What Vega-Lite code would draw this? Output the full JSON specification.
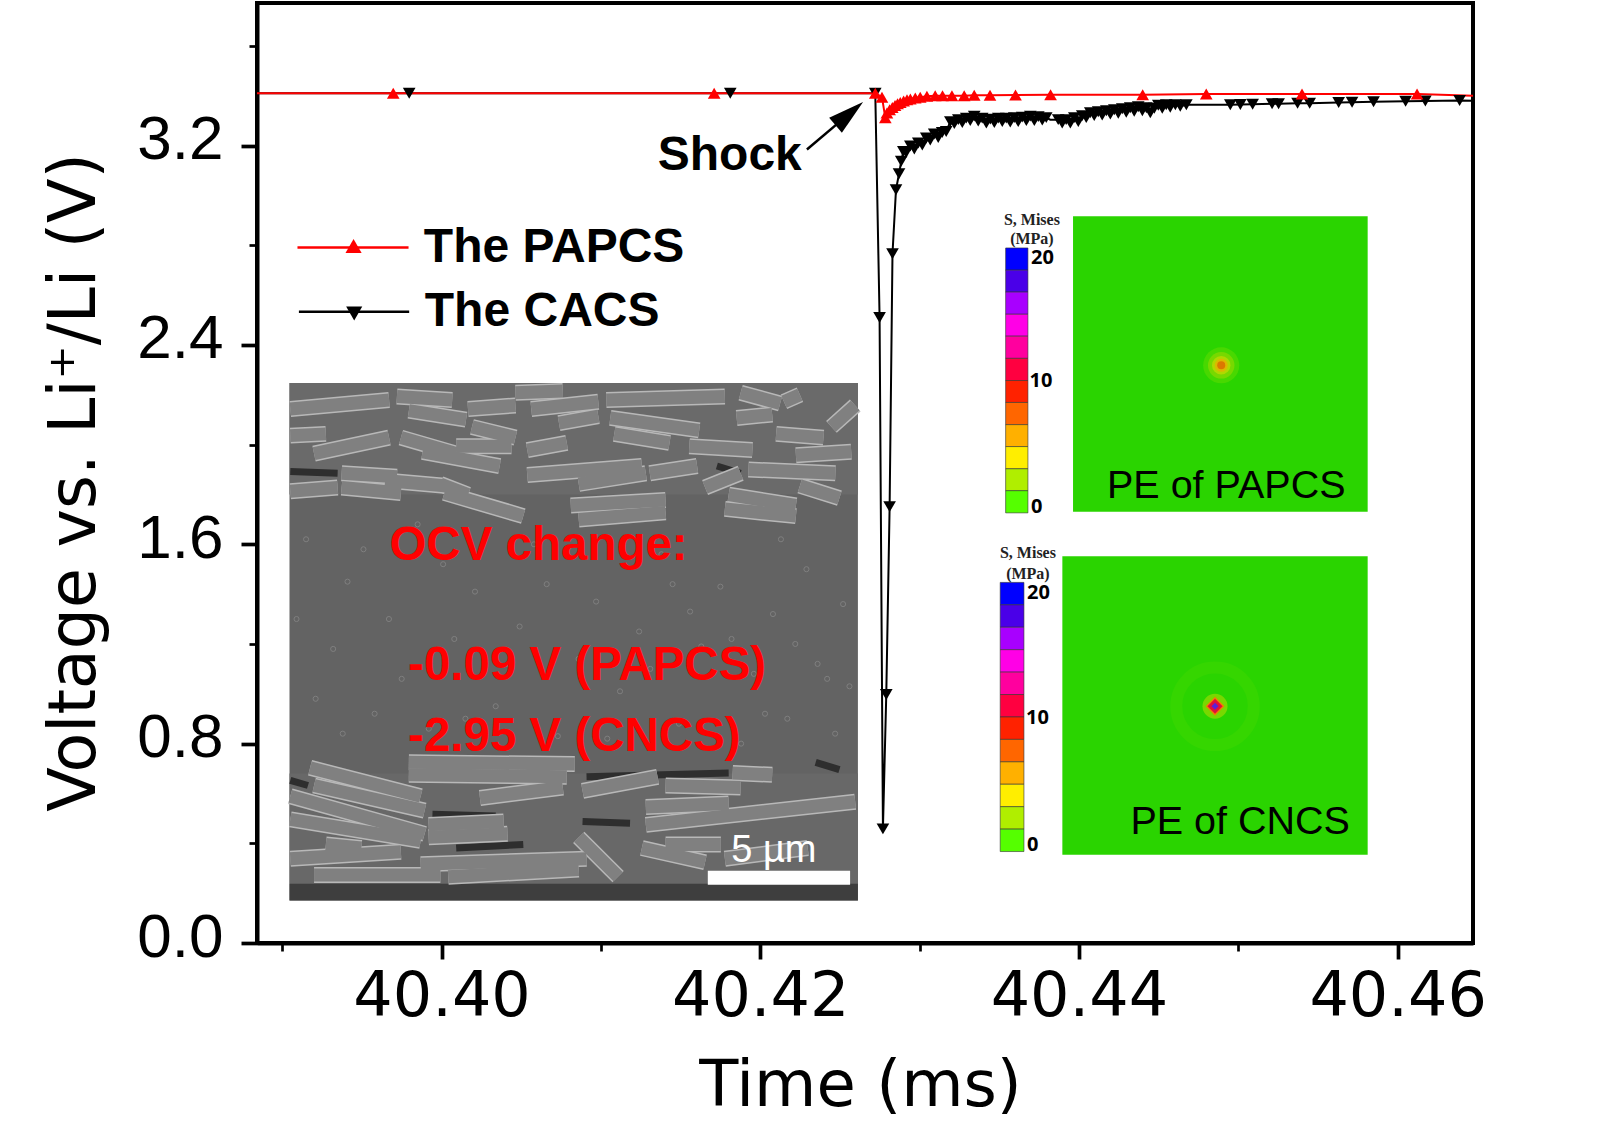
{
  "$schema": "https://vega.github.io/schema/vega-lite/v6.json",
  "width": 1216,
  "height": 940,
  "autosize": "none",
  "padding": {"left": 257, "top": 3, "right": 127, "bottom": 195},
  "background": "white",
  "view": {"stroke": "black", "strokeWidth": 4},
  "datasets": {
    "curves": [
      {"series":"CACS","t":40.38842,"v":3.41,"m":0},
      {"series":"CACS","t":40.39797,"v":3.41,"m":1},
      {"series":"CACS","t":40.41812,"v":3.41,"m":1},
      {"series":"CACS","t":40.42722,"v":3.41,"m":1},
      {"series":"CACS","t":40.42749,"v":2.51,"m":1},
      {"series":"CACS","t":40.4277,"v":0.458,"m":1},
      {"series":"CACS","t":40.42791,"v":0.997,"m":1},
      {"series":"CACS","t":40.42812,"v":1.751,"m":1},
      {"series":"CACS","t":40.4283,"v":2.766,"m":1},
      {"series":"CACS","t":40.42852,"v":3.023,"m":1},
      {"series":"CACS","t":40.42871,"v":3.087,"m":1},
      {"series":"CACS","t":40.42885,"v":3.137,"m":1},
      {"series":"CACS","t":40.42898,"v":3.176,"m":1},
      {"series":"CACS","t":40.42916,"v":3.172,"m":1},
      {"series":"CACS","t":40.42942,"v":3.198,"m":1},
      {"series":"CACS","t":40.42967,"v":3.186,"m":1},
      {"series":"CACS","t":40.42992,"v":3.21,"m":1},
      {"series":"CACS","t":40.43017,"v":3.202,"m":1},
      {"series":"CACS","t":40.43042,"v":3.23,"m":1},
      {"series":"CACS","t":40.43067,"v":3.222,"m":1},
      {"series":"CACS","t":40.43092,"v":3.246,"m":1},
      {"series":"CACS","t":40.43117,"v":3.232,"m":1},
      {"series":"CACS","t":40.43142,"v":3.252,"m":1},
      {"series":"CACS","t":40.43167,"v":3.256,"m":1},
      {"series":"CACS","t":40.43193,"v":3.296,"m":1},
      {"series":"CACS","t":40.43218,"v":3.288,"m":1},
      {"series":"CACS","t":40.43243,"v":3.304,"m":1},
      {"series":"CACS","t":40.43268,"v":3.292,"m":1},
      {"series":"CACS","t":40.43293,"v":3.31,"m":1},
      {"series":"CACS","t":40.43318,"v":3.3,"m":1},
      {"series":"CACS","t":40.43343,"v":3.318,"m":1},
      {"series":"CACS","t":40.43368,"v":3.298,"m":1},
      {"series":"CACS","t":40.43393,"v":3.31,"m":1},
      {"series":"CACS","t":40.43419,"v":3.29,"m":1},
      {"series":"CACS","t":40.43444,"v":3.306,"m":1},
      {"series":"CACS","t":40.43469,"v":3.292,"m":1},
      {"series":"CACS","t":40.43494,"v":3.31,"m":1},
      {"series":"CACS","t":40.43519,"v":3.296,"m":1},
      {"series":"CACS","t":40.43544,"v":3.31,"m":1},
      {"series":"CACS","t":40.43569,"v":3.294,"m":1},
      {"series":"CACS","t":40.43594,"v":3.312,"m":1},
      {"series":"CACS","t":40.43619,"v":3.296,"m":1},
      {"series":"CACS","t":40.43644,"v":3.314,"m":1},
      {"series":"CACS","t":40.4367,"v":3.3,"m":1},
      {"series":"CACS","t":40.43695,"v":3.318,"m":1},
      {"series":"CACS","t":40.4372,"v":3.3,"m":1},
      {"series":"CACS","t":40.43745,"v":3.316,"m":1},
      {"series":"CACS","t":40.4377,"v":3.302,"m":1},
      {"series":"CACS","t":40.43795,"v":3.312,"m":1},
      {"series":"CACS","t":40.4382,"v":3.304,"m":0},
      {"series":"CACS","t":40.4387,"v":3.304,"m":1},
      {"series":"CACS","t":40.43895,"v":3.29,"m":1},
      {"series":"CACS","t":40.4392,"v":3.304,"m":1},
      {"series":"CACS","t":40.43946,"v":3.29,"m":1},
      {"series":"CACS","t":40.43971,"v":3.312,"m":1},
      {"series":"CACS","t":40.43996,"v":3.296,"m":1},
      {"series":"CACS","t":40.44021,"v":3.32,"m":1},
      {"series":"CACS","t":40.44046,"v":3.312,"m":1},
      {"series":"CACS","t":40.44071,"v":3.332,"m":1},
      {"series":"CACS","t":40.44096,"v":3.32,"m":1},
      {"series":"CACS","t":40.44121,"v":3.336,"m":1},
      {"series":"CACS","t":40.44146,"v":3.322,"m":1},
      {"series":"CACS","t":40.44172,"v":3.34,"m":1},
      {"series":"CACS","t":40.44197,"v":3.326,"m":1},
      {"series":"CACS","t":40.44222,"v":3.344,"m":1},
      {"series":"CACS","t":40.44247,"v":3.33,"m":1},
      {"series":"CACS","t":40.44272,"v":3.348,"m":1},
      {"series":"CACS","t":40.44297,"v":3.334,"m":1},
      {"series":"CACS","t":40.44322,"v":3.352,"m":1},
      {"series":"CACS","t":40.44347,"v":3.338,"m":1},
      {"series":"CACS","t":40.44372,"v":3.356,"m":1},
      {"series":"CACS","t":40.44398,"v":3.34,"m":1},
      {"series":"CACS","t":40.44423,"v":3.352,"m":1},
      {"series":"CACS","t":40.44448,"v":3.332,"m":1},
      {"series":"CACS","t":40.44473,"v":3.35,"m":1},
      {"series":"CACS","t":40.44498,"v":3.362,"m":1},
      {"series":"CACS","t":40.44523,"v":3.35,"m":1},
      {"series":"CACS","t":40.44548,"v":3.364,"m":1},
      {"series":"CACS","t":40.44573,"v":3.354,"m":1},
      {"series":"CACS","t":40.44605,"v":3.364,"m":1},
      {"series":"CACS","t":40.44636,"v":3.358,"m":1},
      {"series":"CACS","t":40.44674,"v":3.364,"m":1},
      {"series":"CACS","t":40.4495,"v":3.364,"m":1},
      {"series":"CACS","t":40.45013,"v":3.365,"m":1},
      {"series":"CACS","t":40.4509,"v":3.366,"m":1},
      {"series":"CACS","t":40.45212,"v":3.368,"m":1},
      {"series":"CACS","t":40.45253,"v":3.368,"m":1},
      {"series":"CACS","t":40.45372,"v":3.37,"m":1},
      {"series":"CACS","t":40.45448,"v":3.37,"m":1},
      {"series":"CACS","t":40.4563,"v":3.373,"m":1},
      {"series":"CACS","t":40.45714,"v":3.374,"m":1},
      {"series":"CACS","t":40.45849,"v":3.376,"m":1},
      {"series":"CACS","t":40.4605,"v":3.378,"m":1},
      {"series":"CACS","t":40.46174,"v":3.379,"m":1},
      {"series":"CACS","t":40.46389,"v":3.381,"m":1},
      {"series":"CACS","t":40.46473,"v":3.38,"m":0},
      {"series":"PAPCS","t":40.38842,"v":3.41,"m":0},
      {"series":"PAPCS","t":40.39697,"v":3.41,"m":1},
      {"series":"PAPCS","t":40.41711,"v":3.41,"m":1},
      {"series":"PAPCS","t":40.42722,"v":3.41,"m":1},
      {"series":"PAPCS","t":40.42764,"v":3.394,"m":1},
      {"series":"PAPCS","t":40.42785,"v":3.311,"m":1},
      {"series":"PAPCS","t":40.42795,"v":3.331,"m":1},
      {"series":"PAPCS","t":40.42812,"v":3.344,"m":1},
      {"series":"PAPCS","t":40.42829,"v":3.353,"m":1},
      {"series":"PAPCS","t":40.42846,"v":3.361,"m":1},
      {"series":"PAPCS","t":40.42862,"v":3.368,"m":1},
      {"series":"PAPCS","t":40.42879,"v":3.373,"m":1},
      {"series":"PAPCS","t":40.429,"v":3.379,"m":1},
      {"series":"PAPCS","t":40.42921,"v":3.384,"m":1},
      {"series":"PAPCS","t":40.42942,"v":3.387,"m":1},
      {"series":"PAPCS","t":40.42973,"v":3.391,"m":1},
      {"series":"PAPCS","t":40.43004,"v":3.394,"m":1},
      {"series":"PAPCS","t":40.43046,"v":3.398,"m":1},
      {"series":"PAPCS","t":40.43098,"v":3.4,"m":1},
      {"series":"PAPCS","t":40.43144,"v":3.4,"m":1},
      {"series":"PAPCS","t":40.43203,"v":3.4,"m":1},
      {"series":"PAPCS","t":40.4328,"v":3.4,"m":1},
      {"series":"PAPCS","t":40.43343,"v":3.402,"m":1},
      {"series":"PAPCS","t":40.43442,"v":3.402,"m":1},
      {"series":"PAPCS","t":40.43602,"v":3.403,"m":1},
      {"series":"PAPCS","t":40.43822,"v":3.404,"m":1},
      {"series":"PAPCS","t":40.444,"v":3.404,"m":1},
      {"series":"PAPCS","t":40.44799,"v":3.407,"m":1},
      {"series":"PAPCS","t":40.454,"v":3.407,"m":1},
      {"series":"PAPCS","t":40.46122,"v":3.407,"m":1},
      {"series":"PAPCS","t":40.46473,"v":3.4,"m":0}
    ],
    "sem_parts": [
      {"part":"base","t":40.39046,"t2":40.42613,"v":0.171,"v2":2.2476},
      {"part":"top","t":40.39046,"t2":40.42613,"v":1.8,"v2":2.2476},
      {"part":"bottom","t":40.39046,"t2":40.42613,"v":0.238,"v2":0.68},
      {"part":"strip","t":40.39046,"t2":40.42613,"v":0.171,"v2":0.238}
    ],
    "pores": [
      {"t":40.3915,"v":1.62},{"t":40.3932,"v":1.18},{"t":40.3941,"v":1.45},{"t":40.3958,"v":0.92},
      {"t":40.3967,"v":1.3},{"t":40.3985,"v":1.68},{"t":40.3992,"v":0.86},{"t":40.4008,"v":1.22},
      {"t":40.4021,"v":1.41},{"t":40.4034,"v":0.95},{"t":40.4049,"v":1.27},{"t":40.4058,"v":1.6},
      {"t":40.4073,"v":0.83},{"t":40.4086,"v":1.14},{"t":40.4097,"v":1.37},{"t":40.4112,"v":1.01},
      {"t":40.4124,"v":1.25},{"t":40.4138,"v":1.56},{"t":40.4149,"v":0.88},{"t":40.4163,"v":1.19},
      {"t":40.4175,"v":1.43},{"t":40.4188,"v":0.8},{"t":40.4196,"v":1.08},{"t":40.4208,"v":1.32},
      {"t":40.4217,"v":0.9},{"t":40.4229,"v":1.5},{"t":40.4236,"v":1.12},{"t":40.4247,"v":0.84},
      {"t":40.4252,"v":1.36},{"t":40.4256,"v":1.03},{"t":40.3921,"v":0.98},{"t":40.4001,"v":1.52},
      {"t":40.3938,"v":0.84},{"t":40.3975,"v":1.06},{"t":40.4015,"v":0.9},{"t":40.4042,"v":1.12},
      {"t":40.4066,"v":1.44},{"t":40.4104,"v":0.82},{"t":40.4131,"v":1.1},{"t":40.4156,"v":1.33},
      {"t":40.4182,"v":1.22},{"t":40.4203,"v":0.92},{"t":40.4222,"v":1.2},{"t":40.4242,"v":1.06},
      {"t":40.3909,"v":1.3},{"t":40.3951,"v":1.58},{"t":40.4145,"v":1.44},{"t":40.4213,"v":1.62}
    ],
    "sem_gaps": [
      {"t":40.39051,"v":1.892,"t2":40.39348,"v2":1.885},
      {"t":40.41728,"v":1.914,"t2":40.41877,"v2":1.885},
      {"t":40.4091,"v":0.667,"t2":40.41802,"v2":0.682},
      {"t":40.39943,"v":0.517,"t2":40.4034,"v2":0.51},
      {"t":40.40092,"v":0.381,"t2":40.40513,"v2":0.395},
      {"t":40.40885,"v":0.488,"t2":40.41183,"v2":0.481},
      {"t":40.42348,"v":0.725,"t2":40.42497,"v2":0.696},
      {"t":40.39051,"v":0.653,"t2":40.39162,"v2":0.632}
    ],
    "sem_rods": [
      {"t":40.39051,"v":2.143,"t2":40.39671,"v2":2.179},
      {"t":40.3972,"v":2.193,"t2":40.40067,"v2":2.179},
      {"t":40.40464,"v":2.208,"t2":40.40761,"v2":2.215},
      {"t":40.41034,"v":2.179,"t2":40.41778,"v2":2.193},
      {"t":40.41877,"v":2.208,"t2":40.42125,"v2":2.165},
      {"t":40.42224,"v":1.957,"t2":40.42571,"v2":1.971},
      {"t":40.421,"v":2.043,"t2":40.42397,"v2":2.028},
      {"t":40.39051,"v":1.813,"t2":40.39348,"v2":1.828},
      {"t":40.40563,"v":2.143,"t2":40.40984,"v2":2.172},
      {"t":40.39051,"v":0.338,"t2":40.39745,"v2":0.366},
      {"t":40.41778,"v":0.338,"t2":40.42298,"v2":0.381},
      {"t":40.41257,"v":0.381,"t2":40.41654,"v2":0.324},
      {"t":40.392,"v":1.964,"t2":40.39671,"v2":2.028},
      {"t":40.39051,"v":2.036,"t2":40.39274,"v2":2.043},
      {"t":40.39795,"v":2.136,"t2":40.40154,"v2":2.1},
      {"t":40.40166,"v":2.143,"t2":40.40464,"v2":2.157},
      {"t":40.40191,"v":2.071,"t2":40.40464,"v2":2.028},
      {"t":40.39745,"v":2.028,"t2":40.40092,"v2":1.964},
      {"t":40.40092,"v":1.993,"t2":40.40439,"v2":1.993},
      {"t":40.39881,"v":1.971,"t2":40.40365,"v2":1.914},
      {"t":40.40538,"v":1.978,"t2":40.40786,"v2":2.007},
      {"t":40.41059,"v":2.107,"t2":40.41617,"v2":2.057},
      {"t":40.41084,"v":2.043,"t2":40.41431,"v2":2.007},
      {"t":40.41555,"v":1.993,"t2":40.41951,"v2":1.978},
      {"t":40.41852,"v":2.107,"t2":40.42075,"v2":2.121},
      {"t":40.40538,"v":1.878,"t2":40.41257,"v2":1.914},
      {"t":40.40861,"v":1.842,"t2":40.41282,"v2":1.885},
      {"t":40.41307,"v":1.885,"t2":40.41604,"v2":1.914},
      {"t":40.41926,"v":1.9,"t2":40.42472,"v2":1.885},
      {"t":40.41654,"v":1.828,"t2":40.41877,"v2":1.885},
      {"t":40.41802,"v":1.799,"t2":40.42224,"v2":1.756},
      {"t":40.41778,"v":1.742,"t2":40.42224,"v2":1.713},
      {"t":40.39373,"v":1.885,"t2":40.3972,"v2":1.871},
      {"t":40.39373,"v":1.828,"t2":40.39745,"v2":1.806},
      {"t":40.39646,"v":1.856,"t2":40.40018,"v2":1.835},
      {"t":40.40018,"v":1.806,"t2":40.40513,"v2":1.713},
      {"t":40.39993,"v":1.842,"t2":40.40166,"v2":1.799},
      {"t":40.40811,"v":1.756,"t2":40.41406,"v2":1.778},
      {"t":40.40861,"v":1.699,"t2":40.41406,"v2":1.728},
      {"t":40.42249,"v":1.835,"t2":40.42497,"v2":1.785},
      {"t":40.42447,"v":2.071,"t2":40.42596,"v2":2.157},
      {"t":40.40737,"v":2.086,"t2":40.40984,"v2":2.114},
      {"t":40.42149,"v":2.172,"t2":40.42249,"v2":2.2},
      {"t":40.39175,"v":0.703,"t2":40.39869,"v2":0.589},
      {"t":40.392,"v":0.632,"t2":40.39894,"v2":0.531},
      {"t":40.39051,"v":0.589,"t2":40.39894,"v2":0.438},
      {"t":40.39051,"v":0.496,"t2":40.39869,"v2":0.41},
      {"t":40.392,"v":0.273,"t2":40.39993,"v2":0.273},
      {"t":40.40042,"v":0.266,"t2":40.40861,"v2":0.295},
      {"t":40.39795,"v":0.725,"t2":40.40836,"v2":0.718},
      {"t":40.39795,"v":0.675,"t2":40.40786,"v2":0.667},
      {"t":40.40241,"v":0.582,"t2":40.40761,"v2":0.624},
      {"t":40.40885,"v":0.61,"t2":40.41356,"v2":0.667},
      {"t":40.41406,"v":0.632,"t2":40.41877,"v2":0.624},
      {"t":40.41282,"v":0.546,"t2":40.41802,"v2":0.56},
      {"t":40.41282,"v":0.474,"t2":40.42596,"v2":0.567},
      {"t":40.39919,"v":0.474,"t2":40.4039,"v2":0.488},
      {"t":40.39919,"v":0.424,"t2":40.40414,"v2":0.438},
      {"t":40.40861,"v":0.424,"t2":40.41108,"v2":0.266},
      {"t":40.39869,"v":0.316,"t2":40.4091,"v2":0.338},
      {"t":40.41827,"v":0.682,"t2":40.42075,"v2":0.675},
      {"t":40.41406,"v":0.395,"t2":40.41753,"v2":0.395},
      {"t":40.39274,"v":0.395,"t2":40.39497,"v2":0.381}
    ],
    "scale_bar": [{"t":40.41671,"t2":40.42564,"v":0.234,"v2":0.29}],
    "panels": [
      {"name":"PE of PAPCS","t":40.43963,"t2":40.45812,"v":1.731,"v2":2.916},
      {"name":"PE of CNCS","t":40.43896,"t2":40.45812,"v":0.354,"v2":1.552}
    ],
    "halo": [{"t":40.44854,"v":0.95}],
    "spots": [
      {"level":"u0","t":40.44893,"v":2.318},
      {"level":"u1","t":40.44893,"v":2.318},
      {"level":"u2","t":40.44893,"v":2.318},
      {"level":"u3","t":40.44893,"v":2.318},
      {"level":"u4","t":40.44893,"v":2.318},
      {"level":"l1","t":40.44854,"v":0.95},
      {"level":"l2","t":40.44854,"v":0.95},
      {"level":"l3","t":40.44854,"v":0.95},
      {"level":"l4","t":40.44854,"v":0.95}
    ],
    "bands": [
      {"band":12,"t":40.4354,"t2":40.4368,"v":2.7,"v2":2.789},
      {"band":11,"t":40.4354,"t2":40.4368,"v":2.612,"v2":2.7},
      {"band":10,"t":40.4354,"t2":40.4368,"v":2.523,"v2":2.612},
      {"band":9,"t":40.4354,"t2":40.4368,"v":2.435,"v2":2.523},
      {"band":8,"t":40.4354,"t2":40.4368,"v":2.346,"v2":2.435},
      {"band":7,"t":40.4354,"t2":40.4368,"v":2.257,"v2":2.346},
      {"band":6,"t":40.4354,"t2":40.4368,"v":2.169,"v2":2.257},
      {"band":5,"t":40.4354,"t2":40.4368,"v":2.08,"v2":2.169},
      {"band":4,"t":40.4354,"t2":40.4368,"v":1.992,"v2":2.08},
      {"band":3,"t":40.4354,"t2":40.4368,"v":1.903,"v2":1.992},
      {"band":2,"t":40.4354,"t2":40.4368,"v":1.815,"v2":1.903},
      {"band":1,"t":40.4354,"t2":40.4368,"v":1.726,"v2":1.815},
      {"band":12,"t":40.43506,"t2":40.43655,"v":1.357,"v2":1.447},
      {"band":11,"t":40.43506,"t2":40.43655,"v":1.267,"v2":1.357},
      {"band":10,"t":40.43506,"t2":40.43655,"v":1.177,"v2":1.267},
      {"band":9,"t":40.43506,"t2":40.43655,"v":1.087,"v2":1.177},
      {"band":8,"t":40.43506,"t2":40.43655,"v":0.997,"v2":1.087},
      {"band":7,"t":40.43506,"t2":40.43655,"v":0.907,"v2":0.997},
      {"band":6,"t":40.43506,"t2":40.43655,"v":0.817,"v2":0.907},
      {"band":5,"t":40.43506,"t2":40.43655,"v":0.727,"v2":0.817},
      {"band":4,"t":40.43506,"t2":40.43655,"v":0.637,"v2":0.727},
      {"band":3,"t":40.43506,"t2":40.43655,"v":0.547,"v2":0.637},
      {"band":2,"t":40.43506,"t2":40.43655,"v":0.457,"v2":0.547},
      {"band":1,"t":40.43506,"t2":40.43655,"v":0.367,"v2":0.457}
    ],
    "key_lines": [
      {"series":"CACS","t":40.39105,"t2":40.39797,"v":2.533},
      {"series":"PAPCS","t":40.39096,"t2":40.39793,"v":2.791}
    ],
    "key_marks": [
      {"series":"CACS","t":40.39452,"v":2.526},
      {"series":"PAPCS","t":40.39448,"v":2.797}
    ],
    "arrow_shaft": [{"t":40.42293,"v":3.184,"t2":40.42559,"v2":3.328}],
    "arrow_head": [{"t":40.42559,"v":3.328}],
    "labels": [
      {"kind":"heading","t":40.41357,"v":3.1,"text":"Shock"},
      {"kind":"heading","t":40.39889,"v":2.732,"text":"The PAPCS"},
      {"kind":"heading","t":40.39895,"v":2.475,"text":"The CACS"},
      {"kind":"ocv","t":40.39673,"v":1.535,"text":"OCV change:"},
      {"kind":"ocv","t":40.3979,"v":1.054,"text":"-0.09 V (PAPCS)"},
      {"kind":"ocv","t":40.3979,"v":0.771,"text":"-2.95 V (CNCS)"},
      {"kind":"scale","t":40.41818,"v":0.326,"text":"5 µm"},
      {"kind":"panel","t":40.44176,"v":1.786,"text":"PE of PAPCS"},
      {"kind":"panel","t":40.44323,"v":0.439,"text":"PE of CNCS"},
      {"kind":"bar","t":40.43699,"v":2.725,"text":"20"},
      {"kind":"bar","t":40.4369,"v":2.23,"text":"10"},
      {"kind":"bar","t":40.43699,"v":1.727,"text":"0"},
      {"kind":"bar","t":40.43674,"v":1.382,"text":"20"},
      {"kind":"bar","t":40.43668,"v":0.879,"text":"10"},
      {"kind":"bar","t":40.43674,"v":0.368,"text":"0"},
      {"kind":"bartitle","t":40.43705,"v":2.883,"text":"S, Mises"},
      {"kind":"bartitle","t":40.43705,"v":2.803,"text":"(MPa)"},
      {"kind":"bartitle","t":40.4368,"v":1.545,"text":"S, Mises"},
      {"kind":"bartitle","t":40.4368,"v":1.462,"text":"(MPa)"}
    ]
  },
  "encoding": {
    "x": {
      "field": "t",
      "type": "quantitative",
      "scale": {"domain": [40.38842, 40.46473], "nice": false, "zero": false},
      "axis": {
        "values": [40.39, 40.4, 40.41, 40.42, 40.43, 40.44, 40.45, 40.46],
        "labelExpr": "round(datum.value*100)%2==0 ? format(datum.value,'.2f') : ''",
        "tickSize": {"condition": {"test": "round(datum.value*100)%2==1", "value": 8}, "value": 16},
        "tickWidth": {"condition": {"test": "round(datum.value*100)%2==1", "value": 2.7}, "value": 3.7},
        "tickColor": "black",
        "domainColor": "black",
        "domainWidth": 4,
        "grid": false,
        "labelFont": "DejaVu Sans",
        "labelFontSize": 62,
        "labelColor": "black",
        "labelBaseline": "alphabetic",
        "labelPadding": 56,
        "labelOverlap": false,
        "labelFlush": false,
        "title": "Time (ms)",
        "titleFont": "DejaVu Sans",
        "titleFontSize": 64,
        "titleFontWeight": "normal",
        "titleColor": "black",
        "titleBaseline": "alphabetic",
        "titleAnchor": "middle",
        "titleAlign": "center",
        "titleX": 603,
        "titleY": 162
      }
    },
    "y": {
      "field": "v",
      "type": "quantitative",
      "scale": {"domain": [0, 3.772], "nice": false, "zero": false},
      "axis": {
        "values": [0, 0.4, 0.8, 1.2, 1.6, 2, 2.4, 2.8, 3.2, 3.6],
        "labelExpr": "round(datum.value*10)%8==0 ? format(datum.value,'.1f') : ''",
        "tickSize": {"condition": {"test": "round(datum.value*10)%8!=0", "value": 8}, "value": 16},
        "tickWidth": {"condition": {"test": "round(datum.value*10)%8!=0", "value": 2.7}, "value": 3.7},
        "tickColor": "black",
        "domainColor": "black",
        "domainWidth": 4,
        "grid": false,
        "labelFont": "Liberation Sans",
        "labelFontSize": 62,
        "labelColor": "black",
        "labelPadding": 18,
        "labelOffset": -6,
        "labelOverlap": false,
        "labelFlush": false,
        "title": "Voltage vs. Li⁺/Li (V)",
        "titleFont": "DejaVu Sans",
        "titleFontSize": 65,
        "titleFontWeight": "normal",
        "titleColor": "black",
        "titleBaseline": "alphabetic",
        "titleAnchor": "middle",
        "titleAlign": "center",
        "titleX": -163,
        "titleY": 479
      }
    }
  },
  "layer": [
    {
      "data": {"name": "sem_parts"},
      "mark": {"type": "rect"},
      "encoding": {
        "x2": {"field": "t2"},
        "y2": {"field": "v2"},
        "color": {
          "field": "part",
          "type": "nominal",
          "scale": {"domain": ["base", "top", "bottom", "strip"], "range": ["#636363", "#6a6a6a", "#686868", "#3e3e3e"]},
          "legend": null
        }
      }
    },
    {
      "data": {"name": "pores"},
      "mark": {"type": "point", "size": 26, "stroke": "#8c8c8c", "strokeWidth": 1, "filled": false}
    },
    {
      "data": {"name": "sem_gaps"},
      "mark": {"type": "rule", "color": "#2e2e2e", "strokeWidth": 7},
      "encoding": {"x2": {"field": "t2"}, "y2": {"field": "v2"}}
    },
    {
      "data": {"name": "sem_rods"},
      "mark": {"type": "rule", "color": "#b8b8b8", "strokeWidth": 16},
      "encoding": {"x2": {"field": "t2"}, "y2": {"field": "v2"}}
    },
    {
      "data": {"name": "sem_rods"},
      "mark": {"type": "rule", "color": "#808080", "strokeWidth": 13},
      "encoding": {"x2": {"field": "t2"}, "y2": {"field": "v2"}}
    },
    {
      "data": {"name": "scale_bar"},
      "mark": {"type": "rect", "color": "white"},
      "encoding": {"x2": {"field": "t2"}, "y2": {"field": "v2"}}
    },
    {
      "data": {"name": "panels"},
      "mark": {"type": "rect", "color": "#2ad400"},
      "encoding": {"x2": {"field": "t2"}, "y2": {"field": "v2"}}
    },
    {
      "data": {"name": "halo"},
      "mark": {"type": "point", "shape": "circle", "filled": false, "size": 6000, "stroke": "#40d800", "strokeWidth": 12, "opacity": 0.5}
    },
    {
      "data": {"name": "spots"},
      "mark": {"type": "point", "filled": true, "opacity": 1, "strokeWidth": 0},
      "encoding": {
        "color": {
          "field": "level",
          "type": "nominal",
          "scale": {
            "domain": ["u0", "u1", "u2", "u3", "u4", "l1", "l2", "l3", "l4"],
            "range": ["#48d800", "#78d800", "#b0d800", "#dcb800", "#dc7800", "#78d800", "#f08000", "#e0103c", "#5a20d8"]
          },
          "legend": null
        },
        "size": {
          "field": "level",
          "type": "nominal",
          "scale": {
            "type": "ordinal",
            "domain": ["u0", "u1", "u2", "u3", "u4", "l1", "l2", "l3", "l4"],
            "range": [1300, 700, 340, 170, 64, 625, 361, 225, 49]
          },
          "legend": null
        },
        "shape": {
          "field": "level",
          "type": "nominal",
          "scale": {
            "domain": ["u0", "u1", "u2", "u3", "u4", "l1", "l2", "l3", "l4"],
            "range": ["circle", "circle", "circle", "circle", "circle", "circle", "diamond", "diamond", "diamond"]
          },
          "legend": null
        }
      }
    },
    {
      "data": {"name": "bands"},
      "mark": {"type": "rect", "stroke": "#333333", "strokeWidth": 0.6},
      "encoding": {
        "x2": {"field": "t2"},
        "y2": {"field": "v2"},
        "color": {
          "field": "band",
          "type": "ordinal",
          "scale": {
            "domain": [1, 2, 3, 4, 5, 6, 7, 8, 9, 10, 11, 12],
            "range": ["#55ff00", "#b0ee00", "#ffee00", "#ffb000", "#ff6600", "#ff2200", "#ff0040", "#ff009e", "#ff00e6", "#a800ff", "#4a00e8", "#0000ff"]
          },
          "legend": null
        }
      }
    },
    {
      "data": {"name": "curves"},
      "mark": {"type": "line", "strokeWidth": 2},
      "encoding": {
        "color": {
          "field": "series",
          "type": "nominal",
          "scale": {"domain": ["PAPCS", "CACS"], "range": ["#ff0000", "#000000"]},
          "legend": null
        }
      }
    },
    {
      "data": {"name": "curves"},
      "transform": [{"filter": "datum.m==1"}],
      "mark": {"type": "point", "filled": true, "size": 160, "opacity": 1, "strokeWidth": 0},
      "encoding": {
        "color": {
          "field": "series",
          "type": "nominal",
          "scale": {"domain": ["PAPCS", "CACS"], "range": ["#ff0000", "#000000"]},
          "legend": null
        },
        "shape": {
          "field": "series",
          "type": "nominal",
          "scale": {"domain": ["PAPCS", "CACS"], "range": ["triangle-up", "triangle-down"]},
          "legend": null
        }
      }
    },
    {
      "data": {"name": "key_lines"},
      "mark": {"type": "rule", "strokeWidth": 2.6},
      "encoding": {
        "x2": {"field": "t2"},
        "color": {
          "field": "series",
          "type": "nominal",
          "scale": {"domain": ["PAPCS", "CACS"], "range": ["#ff0000", "#000000"]},
          "legend": null
        }
      }
    },
    {
      "data": {"name": "key_marks"},
      "mark": {"type": "point", "filled": true, "size": 260, "opacity": 1, "strokeWidth": 0},
      "encoding": {
        "color": {
          "field": "series",
          "type": "nominal",
          "scale": {"domain": ["PAPCS", "CACS"], "range": ["#ff0000", "#000000"]},
          "legend": null
        },
        "shape": {
          "field": "series",
          "type": "nominal",
          "scale": {"domain": ["PAPCS", "CACS"], "range": ["triangle-up", "triangle-down"]},
          "legend": null
        }
      }
    },
    {
      "data": {"name": "arrow_shaft"},
      "mark": {"type": "rule", "color": "black", "strokeWidth": 2.5},
      "encoding": {"x2": {"field": "t2"}, "y2": {"field": "v2"}}
    },
    {
      "data": {"name": "arrow_head"},
      "mark": {"type": "point", "filled": true, "color": "black", "opacity": 1, "strokeWidth": 0, "shape": "M0,-1L0.55,1L-0.55,1Z", "size": 1296, "angle": 50}
    },
    {
      "data": {"name": "labels"},
      "transform": [{"filter": "datum.kind=='heading'"}],
      "mark": {"type": "text", "align": "left", "baseline": "alphabetic", "font": "Liberation Sans", "fontWeight": "bold", "fontSize": 48, "color": "black"},
      "encoding": {"text": {"field": "text"}}
    },
    {
      "data": {"name": "labels"},
      "transform": [{"filter": "datum.kind=='ocv'"}],
      "mark": {"type": "text", "align": "left", "baseline": "alphabetic", "font": "Liberation Sans", "fontWeight": "bold", "fontSize": 47.5, "color": "#ff0000"},
      "encoding": {"text": {"field": "text"}}
    },
    {
      "data": {"name": "labels"},
      "transform": [{"filter": "datum.kind=='scale'"}],
      "mark": {"type": "text", "align": "left", "baseline": "alphabetic", "font": "Liberation Sans", "fontSize": 38, "color": "white"},
      "encoding": {"text": {"field": "text"}}
    },
    {
      "data": {"name": "labels"},
      "transform": [{"filter": "datum.kind=='panel'"}],
      "mark": {"type": "text", "align": "left", "baseline": "alphabetic", "font": "Liberation Sans", "fontSize": 39.5, "color": "black"},
      "encoding": {"text": {"field": "text"}}
    },
    {
      "data": {"name": "labels"},
      "transform": [{"filter": "datum.kind=='bar'"}],
      "mark": {"type": "text", "align": "left", "baseline": "alphabetic", "font": "Noto Sans", "fontWeight": "bold", "fontSize": 20, "color": "black"},
      "encoding": {"text": {"field": "text"}}
    },
    {
      "data": {"name": "labels"},
      "transform": [{"filter": "datum.kind=='bartitle'"}],
      "mark": {"type": "text", "align": "center", "baseline": "alphabetic", "font": "Liberation Serif", "fontWeight": "bold", "fontSize": 16, "color": "#222222"},
      "encoding": {"text": {"field": "text"}}
    }
  ],
  "resolve": {"scale": {"color": "independent", "size": "independent", "shape": "independent"}}
}
